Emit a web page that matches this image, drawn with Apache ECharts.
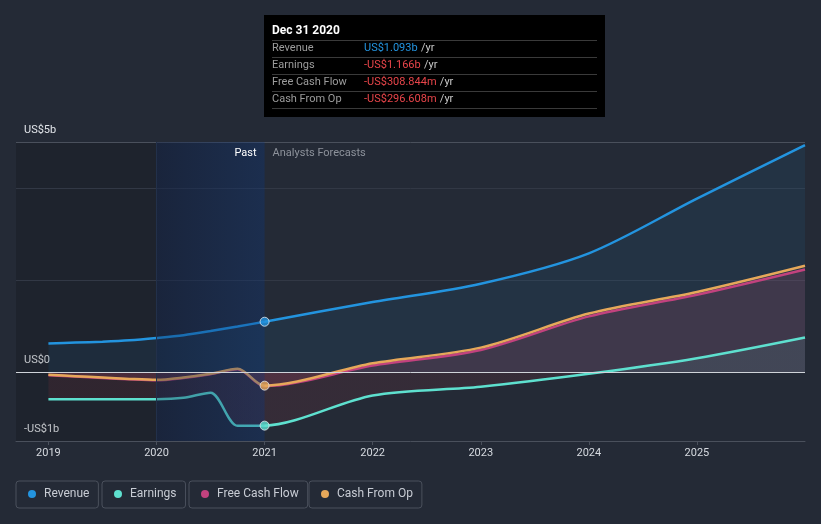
<!DOCTYPE html>
<html><head><meta charset="utf-8">
<script src="https://cdn.jsdelivr.net/npm/echarts@6/dist/echarts.min.js"></script>
<style>html,body{margin:0;padding:0;background:#242a36;}#c{width:821px;height:524px;}</style>
</head><body><div id="c"></div>
<script>
// ---- data (US$ billions) ----
const periods      = [2019, 2019.25, 2019.5, 2019.75, 2020, 2020.25, 2020.5, 2020.75, 2021, 2022, 2023, 2024, 2025, 2026];
const revenue      = [0.62, 0.64, 0.66, 0.69, 0.74, 0.80, 0.89, 0.99, 1.093, 1.52, 1.92, 2.58, 3.77, 4.93];
const earnings     = [-0.59, -0.59, -0.59, -0.59, -0.59, -0.56, -0.45, -1.17, -1.166, -0.51, -0.32, -0.04, 0.30, 0.75];
const freeCashFlow = [-0.07, -0.10, -0.13, -0.16, -0.18, -0.13, -0.05, 0.06, -0.308844, 0.14, 0.48, 1.21, 1.68, 2.23];
const cashFromOp   = [-0.06, -0.09, -0.12, -0.15, -0.17, -0.12, -0.04, 0.07, -0.296608, 0.19, 0.53, 1.27, 1.74, 2.31];
const seriesNames  = ['Revenue', 'Earnings', 'Free Cash Flow', 'Cash From Op'];
const xTickValues  = [2019, 2020, 2021, 2022, 2023, 2024, 2025];
const yTickValues  = [-1.5, 0, 5];
const yTickLabels  = ['-US$1b', 'US$0', 'US$5b'];
const gridValues   = [2, 4, 5];
const xRange = [2018.7, 2026];
const yRange = [-1.5, 5];
const highlightStart = 2020;
const pastEnd = 2021;
const tooltipDate = 'Dec 31 2020';

// ---- styling ----
const COLORS = {Revenue: '#2394df', Earnings: '#5ee0cf', 'Free Cash Flow': '#c2427e', 'Cash From Op': '#e6a85a'};
const FONT = 'Roboto, "Noto Sans", sans-serif';
const hoverIdx = periods.indexOf(pastEnd);

function mkData(vals) { return vals.map((v, i) => [periods[i], v]); }
const eMax = Math.max(0, ...earnings), eMin = Math.min(0, ...earnings);
const eZero = eMax / (eMax - eMin);

function lineSeries(name, vals, area) {
  return {
    name, type: 'line', data: mkData(vals), z: 4,
    symbol: 'none', showSymbol: false, smooth: 0.3,
    color: COLORS[name],
    lineStyle: {width: 2.5, color: COLORS[name]},
    areaStyle: area, emphasis: {disabled: true}, silent: true, animation: false
  };
}

function fmt(v) {
  const a = Math.abs(v);
  const s = a >= 1 ? 'US$' + a.toFixed(3) + 'b' : 'US$' + (a * 1000).toFixed(3) + 'm';
  return (v < 0 ? '-' : '') + s;
}

const markerSeries = [['Revenue', revenue], ['Cash From Op', cashFromOp], ['Earnings', earnings]];

const series = [
  {
    type: 'line', data: [], silent: true,
    markArea: {silent: true, z: 0.5, itemStyle: {color: 'rgba(0,0,0,0.15)'},
      data: [[{xAxis: xRange[0], yAxis: yRange[0]}, {xAxis: highlightStart, yAxis: yRange[1]}]]},
    markLine: {silent: true, symbol: 'none', z: 1, label: {show: false},
      lineStyle: {type: 'solid', width: 1, color: '#333a47'},
      data: gridValues.map(v => ({yAxis: v, lineStyle: {color: v === yRange[1] ? '#4a505c' : '#323845'}}))}
  },
  {
    type: 'line', data: [], silent: true,
    markArea: {silent: true, z: 5,
      itemStyle: {color: new echarts.graphic.LinearGradient(0, 0, 1, 0, [
        {offset: 0, color: 'rgba(5,25,70,0.34)'}, {offset: 1, color: 'rgba(10,55,130,0.32)'}])},
      data: [[{xAxis: highlightStart, yAxis: yRange[0]}, {xAxis: pastEnd, yAxis: yRange[1]}]]},
    markLine: {silent: true, symbol: 'none', z: 6, label: {show: false},
      data: [
        [{coord: [pastEnd, yRange[0]], lineStyle: {color: '#1f4672', width: 1, type: 'solid'}}, {coord: [pastEnd, 5.59]}],
        [{coord: [highlightStart, yRange[0]], lineStyle: {color: '#22304a', width: 1, type: 'solid'}}, {coord: [highlightStart, yRange[1]]}],
        [{coord: [xRange[0], 0], lineStyle: {color: '#cfd3d9', width: 1, type: 'solid'}}, {coord: [xRange[1], 0]}]
      ]},
    markPoint: {silent: true, symbol: 'circle', symbolSize: 0, z: 7,
      data: [
        {coord: [pastEnd, yRange[1]], label: {show: true, formatter: 'Past', position: 'inside', align: 'right', verticalAlign: 'middle', offset: [-8, 11], color: '#ffffff', fontSize: 11, fontFamily: FONT}},
        {coord: [pastEnd, yRange[1]], label: {show: true, formatter: 'Analysts Forecasts', position: 'inside', align: 'left', verticalAlign: 'middle', offset: [8, 11], color: '#8d929b', fontSize: 11, fontFamily: FONT}}
      ]}
  },
  lineSeries('Revenue', revenue, {color: 'rgba(35,148,223,0.12)'}),
  lineSeries('Free Cash Flow', freeCashFlow, {color: 'rgba(194,66,126,0.22)'}),
  lineSeries('Cash From Op', cashFromOp, {color: 'rgba(230,168,90,0.04)'}),
  lineSeries('Earnings', earnings, {color: new echarts.graphic.LinearGradient(0, 0, 0, 1, [
    {offset: 0, color: 'rgba(94,224,207,0.12)'}, {offset: eZero, color: 'rgba(94,224,207,0.12)'},
    {offset: eZero, color: 'rgba(210,60,70,0.14)'}, {offset: 1, color: 'rgba(210,60,70,0.14)'}])}),
  {
    type: 'scatter', z: 8, silent: true, symbol: 'circle', symbolSize: 9,
    data: markerSeries.map(([n, vals]) => ({value: [periods[hoverIdx], vals[hoverIdx]],
      itemStyle: {color: COLORS[n], borderColor: '#e4e9ef', borderWidth: 1}}))
  }
];

const legendLefts = [16, 102, 189, 309];
const legends = seriesNames.map((n, i) => ({
  data: [n], left: legendLefts[i], top: 481, orient: 'horizontal',
  icon: 'circle', itemWidth: 8, itemHeight: 8,
  borderColor: '#4a505c', borderWidth: 1, borderRadius: 3, padding: [7, 9, 8, 12],
  selectedMode: false,
  textStyle: {color: '#c8ccd4', fontSize: 12, fontFamily: FONT, padding: [0, 0, 0, 3]}
}));

const tipRows = [
  ['Revenue', revenue[hoverIdx]],
  ['Earnings', earnings[hoverIdx]],
  ['Free Cash Flow', freeCashFlow[hoverIdx]],
  ['Cash From Op', cashFromOp[hoverIdx]]
];
const tipEls = [
  {type: 'rect', shape: {x: 264, y: 15, width: 341, height: 102}, style: {fill: '#000000'}},
  {type: 'text', x: 272, y: 31, style: {text: tooltipDate, fill: '#ffffff', font: 'bold 12px ' + FONT, textVerticalAlign: 'middle'}}
];
[40, 57, 74, 91, 108].forEach(y => tipEls.push({type: 'line', shape: {x1: 272, y1: y + 0.5, x2: 597, y2: y + 0.5}, style: {stroke: '#3a3a3a', lineWidth: 1}}));
tipRows.forEach((r, i) => {
  const y = 48.5 + i * 17;
  tipEls.push({type: 'text', x: 272, y, style: {text: r[0], fill: '#9c9c9c', font: '11px ' + FONT, textVerticalAlign: 'middle'}});
  tipEls.push({type: 'text', x: 364, y, style: {
    text: '{v|' + fmt(r[1]) + '} {u|/yr}', textVerticalAlign: 'middle',
    rich: {v: {fill: r[1] < 0 ? '#e8454a' : '#2394df', font: '11px ' + FONT}, u: {fill: '#c8c8c8', font: '11px ' + FONT}}
  }});
});

const chart = echarts.init(document.getElementById('c'), null, {renderer: 'canvas'});
chart.setOption({
  backgroundColor: '#242a36',
  animation: false,
  textStyle: {fontFamily: FONT},
  grid: {left: 16, right: 16, top: 142, bottom: 83, containLabel: false},
  xAxis: {
    type: 'value', min: xRange[0], max: xRange[1],
    axisLine: {show: true, onZero: false, lineStyle: {color: '#4a505c'}},
    axisTick: {show: true, length: 4, lineStyle: {color: '#4a505c'}, customValues: xTickValues},
    axisLabel: {color: '#d6dae0', fontSize: 11, margin: 7, customValues: xTickValues, formatter: v => String(v)},
    splitLine: {show: false}
  },
  yAxis: {
    type: 'value', min: yRange[0], max: yRange[1],
    axisLine: {show: false}, axisTick: {show: false}, splitLine: {show: false},
    axisLabel: {inside: true, margin: 8, color: '#e2e5ea', fontSize: 11, verticalAlign: 'bottom', padding: [0, 0, 6, 0],
      customValues: yTickValues, formatter: v => yTickLabels[yTickValues.indexOf(v)] ?? ''}
  },
  legend: legends,
  series,
  graphic: [{type: 'group', z: 100, children: tipEls}]
});
</script></body></html>
